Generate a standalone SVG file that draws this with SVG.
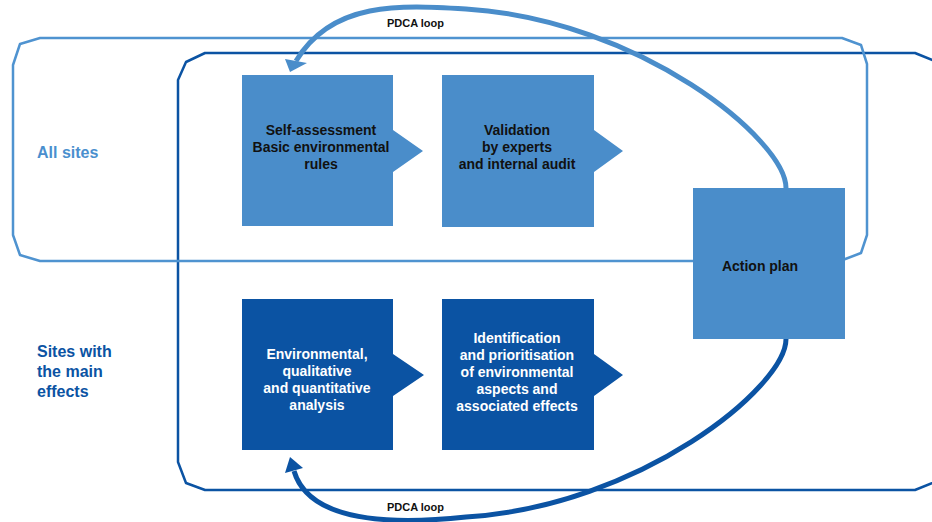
<svg xmlns="http://www.w3.org/2000/svg" width="932" height="522" viewBox="0 0 932 522">
  <style>
    .frame { fill: none; stroke-width: 2.5; stroke-linejoin: round; }
    .light-frame { stroke: #4F93D0; }
    .dark-frame { stroke: #0B53A3; }
    .loop { fill: none; stroke-width: 5; }
    .light-fill { fill: #4A8DCA; }
    .dark-fill { fill: #0B53A3; }
    .txt { font-family: "Liberation Sans", Arial, sans-serif; font-weight: 700; }
    .box-txt { font-size: 14px; text-anchor: middle; }
    .dark-txt { fill: #111111; }
    .white-txt { fill: #FFFFFF; }
    .lane { font-size: 16px; }
    .loop-txt { font-size: 11px; fill: #111111; }
  </style>
  <rect width="932" height="522" fill="#FFFFFF"/>

  <g id="frame-main-effects">
    <path class="frame dark-frame" d="M940,63 L915,53 H205 L186,62 L178,80 V462 L186,483 L205,490 H915 L940,480"/>
  </g>
  <g id="frame-all-sites">
    <path class="frame light-frame" d="M40,38 H842 L861,45 L867,64 V235 L861,253 L840,261 H40 L20,255 L13,235 V65 L20,44 Z"/>
  </g>

  <g id="connectors">
    <path class="loop" stroke="#4A8DCA" d="M786,188 C786,140 640,20 466,9 C400,5 332,1 296,61"/>
    <polygon fill="#4A8DCA" points="285,59 307,63 290,72"/>
    <path class="loop" stroke="#0B53A3" d="M786,339 C786,387 640,506 466,517 C400,524 310,525 294,471"/>
    <polygon fill="#0B53A3" points="285,473 303,468 290,457"/>
    <text class="txt loop-txt" x="387" y="27">PDCA loop</text>
    <text class="txt loop-txt" x="387" y="511">PDCA loop</text>
  </g>

  <g id="self-assessment">
    <path class="light-fill" d="M242,75 H393 V130 L423,151 L393,172 V226 H242 Z"/>
    <text class="txt box-txt dark-txt" x="321" y="135">Self-assessment</text>
    <text class="txt box-txt dark-txt" x="321" y="152">Basic environmental</text>
    <text class="txt box-txt dark-txt" x="321" y="169">rules</text>
  </g>

  <g id="validation">
    <path class="light-fill" d="M442,75 H594 V130 L623,151 L594,172 V227 H442 Z"/>
    <text class="txt box-txt dark-txt" x="517" y="135">Validation</text>
    <text class="txt box-txt dark-txt" x="517" y="152">by experts</text>
    <text class="txt box-txt dark-txt" x="517" y="169">and internal audit</text>
  </g>

  <g id="action-plan">
    <rect class="light-fill" x="693" y="188" width="152" height="151"/>
    <text class="txt box-txt dark-txt" x="760" y="271">Action plan</text>
  </g>

  <g id="environmental-analysis">
    <path class="dark-fill" d="M242,299 H393 V354 L424,375 L393,396 V450 H242 Z"/>
    <text class="txt box-txt white-txt" x="317" y="359">Environmental,</text>
    <text class="txt box-txt white-txt" x="317" y="376">qualitative</text>
    <text class="txt box-txt white-txt" x="317" y="393">and quantitative</text>
    <text class="txt box-txt white-txt" x="317" y="410">analysis</text>
  </g>

  <g id="identification">
    <path class="dark-fill" d="M442,299 H594 V354 L623,375 L594,396 V450 H442 Z"/>
    <text class="txt box-txt white-txt" x="517" y="343">Identification</text>
    <text class="txt box-txt white-txt" x="517" y="360">and prioritisation</text>
    <text class="txt box-txt white-txt" x="517" y="377">of environmental</text>
    <text class="txt box-txt white-txt" x="517" y="394">aspects and</text>
    <text class="txt box-txt white-txt" x="517" y="411">associated effects</text>
  </g>

  <g id="label-all-sites">
    <text class="txt lane" x="37" y="158" fill="#4A8FCE">All sites</text>
  </g>
  <g id="label-main-effects">
    <text class="txt lane" x="37" y="357" fill="#0B53A3">Sites with</text>
    <text class="txt lane" x="37" y="377" fill="#0B53A3">the main</text>
    <text class="txt lane" x="37" y="397" fill="#0B53A3">effects</text>
  </g>
</svg>
